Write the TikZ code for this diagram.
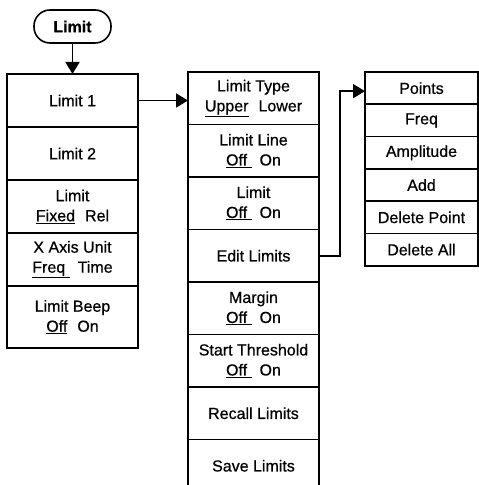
\documentclass[tikz,border=0pt]{standalone}
\usepackage{fontspec}
\setmainfont{Liberation Sans}[FakeBold=0.6]
\usetikzlibrary{arrows.meta,positioning}

\begin{document}
\begin{tikzpicture}[
  x=1pt, y=1pt,
  node distance=0pt,
  key/.style={draw, line width=1.8pt, minimum width=131pt, minimum height=53pt,
              inner sep=0pt, outer sep=0pt, align=center,
              font=\fontsize{16}{20}\selectfont},
  lastkey/.style={key, minimum height=62pt},
  menu/.style={key, minimum height=52.5pt},
  sub/.style={key, minimum width=113pt, minimum height=32.3pt},
  hardkey/.style={draw, line width=1.6pt, rounded corners=16pt, minimum width=77pt,
                  minimum height=33pt, inner sep=0pt, font=\bfseries\fontsize{16}{19}\selectfont},
  ar/.style={-{Triangle[length=12pt,width=14pt]}, line width=1.8pt},
]
\useasboundingbox (0,0) rectangle (479,485);
\node[hardkey] (limit) at (72.5,458.5) {Limit};
% first column
\node[key, anchor=north] (lim1) at (72.5,411) {Limit 1};
\node[key, below=of lim1] (lim2) {Limit 2};
\node[key, below=of lim2] (mode) {Limit\\\underline{Fixed}\hspace{10pt}Rel};
\node[key, below=of mode] (xunit) {X Axis Unit\\\underline{Freq\ }\hspace{8pt}Time};
\node[lastkey, below=of xunit] (beep) {Limit Beep\\\underline{Off}\hspace{10pt}On};
% second column
\node[menu, anchor=north] (ltype) at (253.5,413) {Limit Type\\\underline{Upper}\hspace{10pt}Lower};
\node[menu, below=of ltype] (lline) {Limit Line\\\underline{Off\ }\hspace{8pt}On};
\node[menu, below=of lline] (lonoff) {Limit\\\underline{Off\ }\hspace{8pt}On};
\node[menu, below=of lonoff] (edit) {Edit Limits};
\node[menu, below=of edit] (margin) {Margin\\\underline{Off\ }\hspace{8pt}On};
\node[menu, below=of margin] (thresh) {Start Threshold\\\underline{Off\ }\hspace{8pt}On};
\node[menu, below=of thresh] (recall) {Recall Limits};
\node[menu, below=of recall] (save) {Save Limits};
% third column
\node[sub, anchor=north] (points) at (421.5,413) {Points};
\node[sub, below=of points] (freq) {Freq};
\node[sub, below=of freq] (ampl) {Amplitude};
\node[sub, below=of ampl] (add) {Add};
\node[sub, below=of add] (delpt) {Delete Point};
\node[sub, below=of delpt] (delall) {Delete All};
% connectors
\draw[ar] (limit.south) -- (lim1.north);
\draw[ar] (lim1.east) -- (lim1.east -| ltype.west);
\draw[ar] (edit.east) -- ++(21,0) |- ([yshift=-3pt]points.west);
\end{tikzpicture}
\end{document}
